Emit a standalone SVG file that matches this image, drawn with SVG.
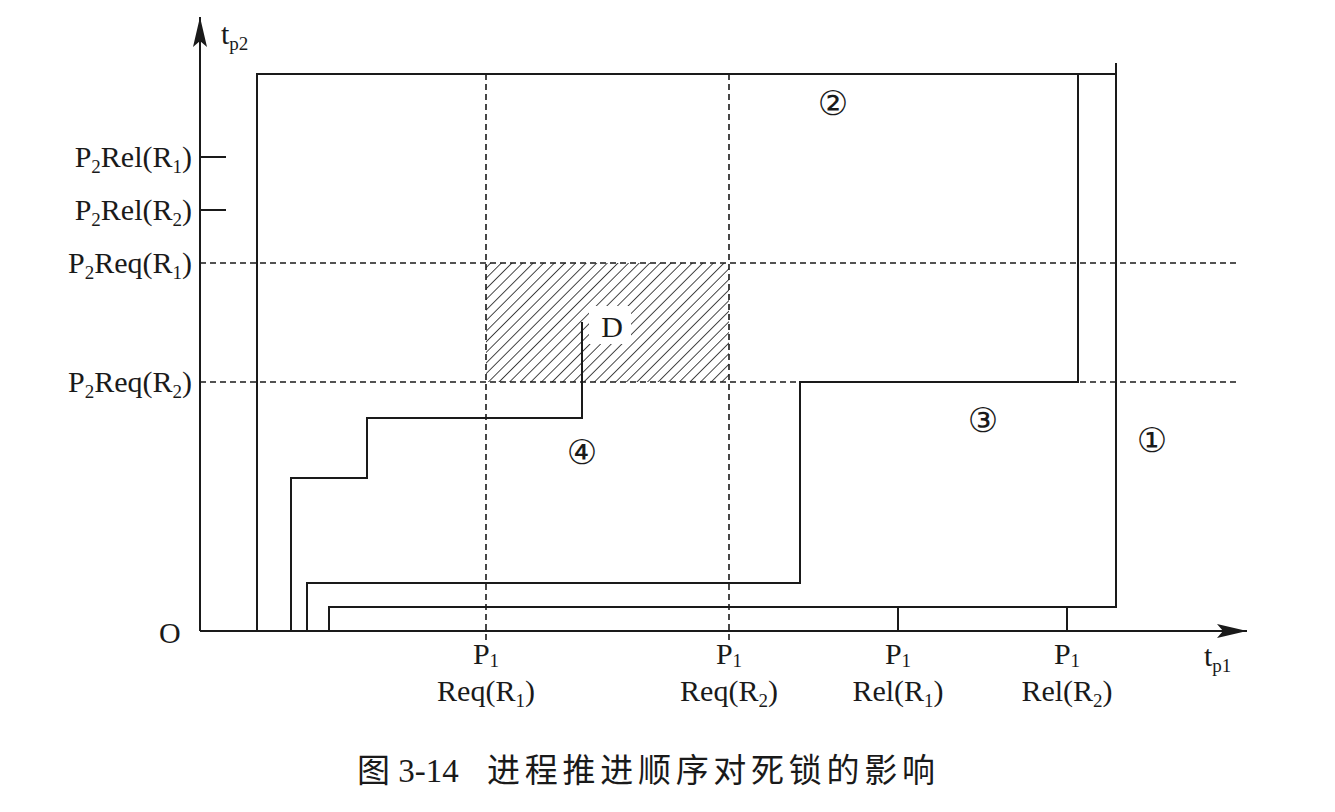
<svg xmlns="http://www.w3.org/2000/svg" width="1335" height="812" viewBox="0 0 1335 812">
<style>
.ln{fill:none;stroke:#1a1a1a;stroke-width:2}
.dash{fill:none;stroke:#1a1a1a;stroke-width:1.6;stroke-dasharray:6 4}
.t{font-family:"Liberation Serif","Times New Roman",serif;font-size:30px;fill:#1a1a1a}
.c{font-family:"DejaVu Sans","Noto Sans CJK SC",sans-serif;font-size:34px;fill:#1a1a1a;text-anchor:middle}
.cap{font-family:"Liberation Serif","Noto Sans CJK SC",serif;font-size:33px;fill:#1a1a1a}
</style>
<defs>
<pattern id="hatch" width="7.5" height="7.5" patternUnits="userSpaceOnUse" patternTransform="rotate(45)">
<line x1="0" y1="0" x2="0" y2="7.5" stroke="#1a1a1a" stroke-width="1.6"/>
</pattern>
<marker id="arr" viewBox="0 0 30 14" refX="30" refY="7" markerWidth="30" markerHeight="14" markerUnits="userSpaceOnUse" orient="auto">
<path d="M0,0 L30,7 L0,14 L6,7 Z" fill="#1a1a1a"/>
</marker>
</defs>
<rect width="1335" height="812" fill="#fff"/>

<g id="deadlock-region">
<rect x="486" y="263" width="243" height="119" fill="url(#hatch)"/>
</g>

<g id="guides">
<line class="dash" x1="200" y1="263" x2="1236" y2="263"/>
<line class="dash" x1="200" y1="382" x2="1236" y2="382"/>
<line class="dash" x1="486" y1="74" x2="486" y2="642"/>
<line class="dash" x1="729" y1="74" x2="729" y2="642"/>
</g>

<g id="axes">
<line class="ln" x1="200" y1="631" x2="1247" y2="631" marker-end="url(#arr)"/>
<line class="ln" x1="200" y1="631" x2="200" y2="17" marker-end="url(#arr)"/>
<line class="ln" x1="200" y1="157" x2="226" y2="157"/>
<line class="ln" x1="200" y1="210" x2="226" y2="210"/>
<line class="ln" x1="898" y1="607" x2="898" y2="631"/>
<line class="ln" x1="1067" y1="607" x2="1067" y2="631"/>
</g>

<g id="connectors">
<polyline id="path1" class="ln" points="329,631 329,607 1116,607 1116,63"/>
<polyline id="path2" class="ln" points="257,631 257,74 1116,74"/>
<polyline id="path3" class="ln" points="307,631 307,583 800,583 800,382 1078,382 1078,74"/>
<polyline id="path4" class="ln" points="291,631 291,478 367,478 367,418 582,418 582,322"/>
</g>

<g id="label-D">
<rect x="589" y="306" width="42" height="38" fill="#fff"/>
<text class="t" x="612" y="337" text-anchor="middle">D</text>
</g>

<g id="y-labels" class="t" text-anchor="end">
<text x="192" y="167">P<tspan font-size="19" dy="6">2</tspan><tspan dy="-6">Rel(R</tspan><tspan font-size="19" dy="6">1</tspan><tspan dy="-6">)</tspan></text>
<text x="192" y="220">P<tspan font-size="19" dy="6">2</tspan><tspan dy="-6">Rel(R</tspan><tspan font-size="19" dy="6">2</tspan><tspan dy="-6">)</tspan></text>
<text x="192" y="273">P<tspan font-size="19" dy="6">2</tspan><tspan dy="-6">Req(R</tspan><tspan font-size="19" dy="6">1</tspan><tspan dy="-6">)</tspan></text>
<text x="192" y="392">P<tspan font-size="19" dy="6">2</tspan><tspan dy="-6">Req(R</tspan><tspan font-size="19" dy="6">2</tspan><tspan dy="-6">)</tspan></text>
</g>

<g id="x-labels" class="t" text-anchor="middle">
<text x="486" y="664">P<tspan font-size="19" dy="3">1</tspan></text>
<text x="486" y="701">Req(R<tspan font-size="19" dy="6">1</tspan><tspan dy="-6">)</tspan></text>
<text x="729" y="664">P<tspan font-size="19" dy="3">1</tspan></text>
<text x="729" y="701">Req(R<tspan font-size="19" dy="6">2</tspan><tspan dy="-6">)</tspan></text>
<text x="898" y="664">P<tspan font-size="19" dy="3">1</tspan></text>
<text x="898" y="701">Rel(R<tspan font-size="19" dy="6">1</tspan><tspan dy="-6">)</tspan></text>
<text x="1067" y="664">P<tspan font-size="19" dy="3">1</tspan></text>
<text x="1067" y="701">Rel(R<tspan font-size="19" dy="6">2</tspan><tspan dy="-6">)</tspan></text>
</g>

<g id="axis-names" class="t">
<text x="159" y="643">O</text>
<text x="221" y="44">t<tspan font-size="19" dy="6">p2</tspan></text>
<text x="1204" y="666">t<tspan font-size="19" dy="6">p1</tspan></text>
</g>

<g id="region-numbers" class="c">
<text x="833" y="115">②</text>
<text x="983" y="432">③</text>
<text x="1152" y="452">①</text>
<text x="582" y="464">④</text>
</g>

<g id="caption">
<text class="cap" x="357" y="782">图 3-14</text>
<text class="cap" x="487" y="782" textLength="448" lengthAdjust="spacing">进程推进顺序对死锁的影响</text>
</g>
</svg>
